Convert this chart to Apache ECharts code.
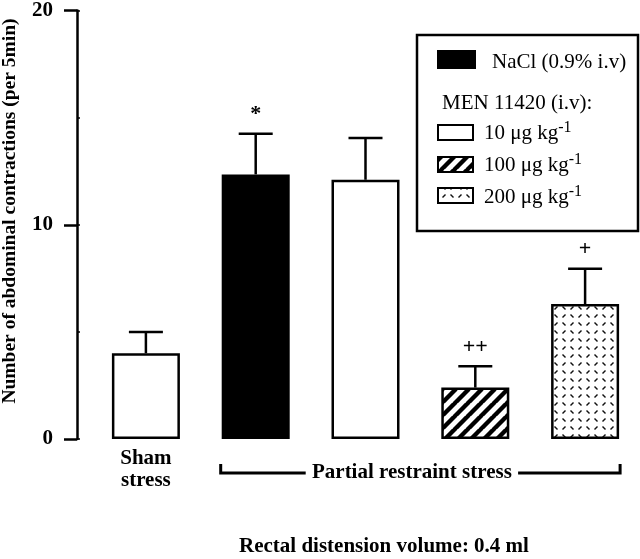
<!DOCTYPE html>
<html><head><meta charset="utf-8">
<script src="https://cdn.jsdelivr.net/npm/echarts@6/dist/echarts.min.js"></script>
<style>html,body{margin:0;padding:0;background:#fff}#c{width:640px;height:559px}</style>
</head><body><div id="c"></div>
<script>
// ---- data ----
const categories = ['Sham\nstress', 'NaCl', 'MEN 10', 'MEN 100', 'MEN 200'];
const xLabels = ['Sham\nstress', '', '', '', ''];
const means = [4.0, 12.35, 12.1, 2.4, 6.3];
const sems = [1.0, 1.9, 1.95, 1.0, 1.65];
const marks = ['', '*', '', '++', '+'];
const yTicks = [0, 10, 20];
const legendLabels = ['NaCl (0.9% i.v)', 'MEN 11420 (i.v):', '10 μg kg', '100 μg kg', '200 μg kg'];
const fills = ['white', 'black', 'white', 'hatch', 'dots'];

// ---- patterns ----
function hatchCanvas() {
  const s = 13;
  const c = document.createElement('canvas'); c.width = s; c.height = s;
  const g = c.getContext('2d'); g.fillStyle = '#fff'; g.fillRect(0, 0, s, s);
  g.strokeStyle = '#000'; g.lineWidth = 4.4;
  for (const o of [-s, 0, s]) { g.beginPath(); g.moveTo(o - 1, s + 1); g.lineTo(o + s + 1, -1); g.stroke(); }
  return c;
}
function dotsCanvas() {
  const c = document.createElement('canvas'); c.width = 16; c.height = 16;
  const g = c.getContext('2d'); g.fillStyle = '#fff'; g.fillRect(0, 0, 16, 16);
  g.strokeStyle = '#111'; g.lineWidth = 1.4;
  const seg = (x1, y1, x2, y2) => { g.beginPath(); g.moveTo(x1, y1); g.lineTo(x2, y2); g.stroke(); };
  seg(2.5, 2.5, 5.5, 5.5); seg(10.5, 5.5, 13.5, 2.5);
  seg(2.5, 13.5, 5.5, 10.5); seg(10.5, 10.5, 13.5, 13.5);
  return c;
}
const hatch = hatchCanvas(), dots = dotsCanvas();
function fillOf(k) {
  if (k === 'hatch') return { image: hatch, repeat: 'repeat' };
  if (k === 'dots') return { image: dots, repeat: 'repeat' };
  return k === 'black' ? '#000' : '#fff';
}

const serif = '"Liberation Serif", "DejaVu Serif", serif';
const chart = echarts.init(document.getElementById('c'));
chart.setOption({
  animation: false,
  backgroundColor: '#fff',
  grid: { left: 91, right: -19, top: 6, bottom: 120 },
  xAxis: {
    type: 'category', data: xLabels,
    axisLine: { show: false }, axisTick: { show: false },
    axisLabel: { color: '#000', fontFamily: serif, fontWeight: 'bold', fontSize: 21, lineHeight: 22, margin: 9, interval: 0 }
  },
  yAxis: [{
    type: 'value', min: 0, max: 20, interval: 10, offset: 14,
    splitLine: { show: false },
    axisLine: { show: true, lineStyle: { color: '#000', width: 2.5 } },
    axisTick: { show: true, length: 13, lineStyle: { color: '#000', width: 2.5 } },
    axisLabel: { color: '#000', fontFamily: serif, fontWeight: 'bold', fontSize: 21, margin: 24 }
  }, {
    type: 'value', min: 0, max: 20, interval: 5, offset: 14, position: 'left',
    splitLine: { show: false }, axisLine: { show: false },
    axisTick: { show: true, inside: true, length: 3, lineStyle: { color: '#000', width: 1.5 } },
    axisLabel: { show: false }
  }],
  series: [{
    type: 'bar', barWidth: 68,
    data: means.map((m, i) => ({ value: m, itemStyle: { color: fillOf(fills[i]), borderColor: '#000', borderWidth: 2.5 } }))
  }, {
    type: 'custom', z: 5,
    data: means.map((m, i) => [i, m, m + sems[i]]),
    renderItem: function (params, api) {
      const base = api.coord([api.value(0), api.value(1)]);
      const top = api.coord([api.value(0), api.value(2)]);
      return { type: 'group', children: [
        { type: 'line', shape: { x1: base[0], y1: base[1], x2: top[0], y2: top[1] }, style: { stroke: '#000', lineWidth: 2.5 } },
        { type: 'line', shape: { x1: top[0] - 17, y1: top[1], x2: top[0] + 17, y2: top[1] }, style: { stroke: '#000', lineWidth: 2.5 } },
        { type: 'text', x: top[0], y: top[1] - 19, style: { text: marks[params.dataIndex], fill: '#000', font: 'bold 22px ' + serif, textAlign: 'center', textVerticalAlign: 'middle' } }
      ] };
    }
  }]
});

// annotations computed from axes
const p1 = chart.convertToPixel({ xAxisIndex: 0, yAxisIndex: 0 }, [1, 0]);
const p4 = chart.convertToPixel({ xAxisIndex: 0, yAxisIndex: 0 }, [4, 0]);
const bx1 = p1[0] - 35, bx2 = p4[0] + 35, by = p1[1] + 34;
const legendX = 417, legendY = 35;
const swatch = (x, y, w, h, k) => ({ type: 'rect', shape: { x, y, width: w, height: h }, style: { fill: fillOf(k), stroke: '#000', lineWidth: 2 } });
const legText = (x, y, t, sup) => ({ type: 'text', x, y, style: {
  text: sup ? '{a|' + t + '}{s|-1}' : '{a|' + t + '}',
  rich: { a: { fontFamily: serif, fontSize: 21, lineHeight: 24, verticalAlign: 'bottom', fill: '#000' }, s: { fontFamily: serif, fontSize: 16, lineHeight: 24, verticalAlign: 'top', fill: '#000' } },
  textVerticalAlign: 'middle' } });
chart.setOption({ graphic: [
  { type: 'text', x: 10, y: 211, rotation: Math.PI / 2, style: { text: 'Number of abdominal contractions (per 5min)', font: 'bold 19.5px ' + serif, fill: '#000', textAlign: 'center', textVerticalAlign: 'middle' } },
  { type: 'polyline', shape: { points: [[bx1, by - 9], [bx1, by], [bx1 + 85, by]] }, style: { stroke: '#000', lineWidth: 3, fill: null } },
  { type: 'polyline', shape: { points: [[bx2 - 102, by], [bx2, by], [bx2, by - 9]] }, style: { stroke: '#000', lineWidth: 3, fill: null } },
  { type: 'text', x: (bx1 + 85 + bx2 - 102) / 2, y: by, style: { text: 'Partial restraint stress', font: 'bold 21px ' + serif, fill: '#000', textAlign: 'center', textVerticalAlign: 'middle' } },
  { type: 'text', x: 384, y: 547, style: { text: 'Rectal distension volume: 0.4 ml', font: 'bold 21px ' + serif, fill: '#000', textAlign: 'center', textVerticalAlign: 'middle' } },
  { type: 'rect', shape: { x: legendX, y: legendY, width: 221, height: 196 }, style: { fill: '#fff', stroke: '#000', lineWidth: 2.5 } },
  swatch(438, 51, 37, 17, 'black'), legText(492, 61, legendLabels[0], false),
  legText(442, 102, legendLabels[1], false),
  swatch(438, 125, 35, 15, 'white'), legText(484, 132, legendLabels[2], true),
  swatch(438, 157, 35, 15, 'hatch'), legText(484, 164, legendLabels[3], true),
  swatch(438, 188, 35, 15, 'dots'), legText(484, 196, legendLabels[4], true)
] });
</script></body></html>
